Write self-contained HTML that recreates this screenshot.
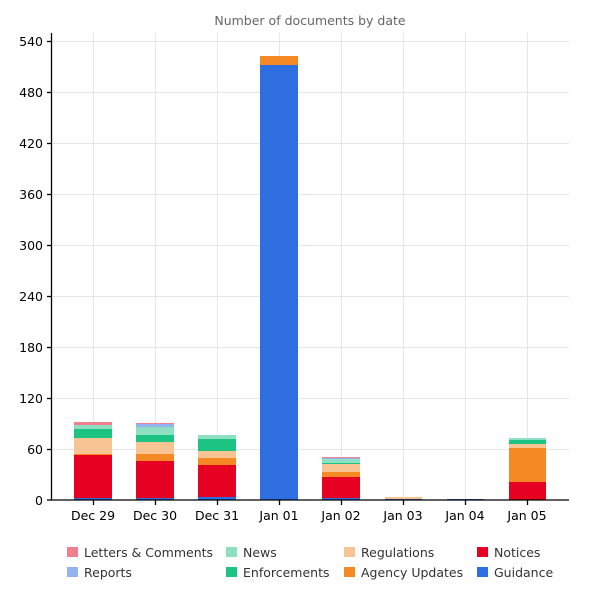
<!DOCTYPE html>
<html><head><meta charset="utf-8"><style>body{margin:0;background:#fff}svg{display:block}text{font-family:"DejaVu Sans",sans-serif}</style></head>
<body>
<svg width="600" height="600" xmlns="http://www.w3.org/2000/svg">
<text x="310" y="25" font-size="12.5" fill="#666" text-anchor="middle">Number of documents by date</text>
<g stroke="#e6e6e6" stroke-width="1">
<line x1="52" x2="569" y1="41.5" y2="41.5"/><line x1="52" x2="569" y1="92.5" y2="92.5"/><line x1="52" x2="569" y1="143.5" y2="143.5"/><line x1="52" x2="569" y1="194.5" y2="194.5"/><line x1="52" x2="569" y1="245.5" y2="245.5"/><line x1="52" x2="569" y1="296.5" y2="296.5"/><line x1="52" x2="569" y1="347.5" y2="347.5"/><line x1="52" x2="569" y1="398.5" y2="398.5"/><line x1="52" x2="569" y1="449.5" y2="449.5"/>
<line x1="93.5" x2="93.5" y1="33" y2="500"/><line x1="155.5" x2="155.5" y1="33" y2="500"/><line x1="217.5" x2="217.5" y1="33" y2="500"/><line x1="279.5" x2="279.5" y1="33" y2="500"/><line x1="341.5" x2="341.5" y1="33" y2="500"/><line x1="403.5" x2="403.5" y1="33" y2="500"/><line x1="465.5" x2="465.5" y1="33" y2="500"/><line x1="527.5" x2="527.5" y1="33" y2="500"/>
</g>
<!-- bar1 -->
<rect x="74" y="498" width="38" height="2" fill="#2e6ee0"/><rect x="74" y="455" width="38" height="43" fill="#e60022"/><rect x="74" y="454" width="38" height="1" fill="#f58a25"/><rect x="74" y="438" width="38" height="16" fill="#f8c494"/><rect x="74" y="429" width="38" height="9" fill="#1dc383"/><rect x="74" y="425" width="38" height="4" fill="#8fe0c2"/><rect x="74" y="422" width="38" height="3" fill="#f08090"/>
<!-- bar2 -->
<rect x="136" y="498" width="38" height="2" fill="#2e6ee0"/><rect x="136" y="461" width="38" height="37" fill="#e60022"/><rect x="136" y="454" width="38" height="7" fill="#f58a25"/><rect x="136" y="442" width="38" height="12" fill="#f8c494"/><rect x="136" y="435" width="38" height="7" fill="#1dc383"/><rect x="136" y="427" width="38" height="8" fill="#8fe0c2"/><rect x="136" y="424" width="38" height="3" fill="#93b4f0"/><rect x="136" y="423" width="38" height="1" fill="#f08090"/>
<!-- bar3 -->
<rect x="198" y="497" width="38" height="3" fill="#2e6ee0"/><rect x="198" y="465" width="38" height="32" fill="#e60022"/><rect x="198" y="458" width="38" height="7" fill="#f58a25"/><rect x="198" y="451" width="38" height="7" fill="#f8c494"/><rect x="198" y="439" width="38" height="12" fill="#1dc383"/><rect x="198" y="435" width="38" height="4" fill="#8fe0c2"/>
<!-- bar4 -->
<rect x="260" y="65" width="38" height="435" fill="#2e6ee0"/><rect x="260" y="56" width="38" height="9" fill="#f58a25"/>
<!-- bar5 -->
<rect x="322" y="498" width="38" height="2" fill="#2e6ee0"/><rect x="322" y="477" width="38" height="21" fill="#e60022"/><rect x="322" y="472" width="38" height="5" fill="#f58a25"/><rect x="322" y="464" width="38" height="8" fill="#f8c494"/><rect x="322" y="463" width="38" height="1" fill="#1dc383"/><rect x="322" y="459" width="38" height="4" fill="#8fe0c2"/><rect x="322" y="458" width="38" height="1" fill="#93b4f0"/><rect x="322" y="457" width="38" height="1" fill="#f08090"/>
<!-- bar6 -->
<rect x="385" y="499" width="37" height="1" fill="#2e6ee0"/><rect x="385" y="497" width="37" height="2" fill="#f8c494"/>
<!-- bar7 -->
<rect x="447" y="499" width="37" height="1" fill="#2e6ee0"/>
<!-- bar8 -->
<rect x="509" y="482" width="37" height="18" fill="#e60022"/><rect x="509" y="448" width="37" height="34" fill="#f58a25"/><rect x="509" y="444" width="37" height="4" fill="#f8c494"/><rect x="509" y="440" width="37" height="4" fill="#1dc383"/><rect x="509" y="438" width="37" height="2" fill="#8fe0c2"/>
<g stroke="#000" stroke-width="1.3">
<line x1="51.5" x2="51.5" y1="33" y2="500"/><line x1="51" x2="569" y1="500" y2="500"/>
<line x1="47" x2="52" y1="41.5" y2="41.5"/><line x1="47" x2="52" y1="92.5" y2="92.5"/><line x1="47" x2="52" y1="143.5" y2="143.5"/><line x1="47" x2="52" y1="194.5" y2="194.5"/><line x1="47" x2="52" y1="245.5" y2="245.5"/><line x1="47" x2="52" y1="296.5" y2="296.5"/><line x1="47" x2="52" y1="347.5" y2="347.5"/><line x1="47" x2="52" y1="398.5" y2="398.5"/><line x1="47" x2="52" y1="449.5" y2="449.5"/><line x1="47" x2="52" y1="500" y2="500"/>
<line x1="93.5" x2="93.5" y1="500" y2="505"/><line x1="155.5" x2="155.5" y1="500" y2="505"/><line x1="217.5" x2="217.5" y1="500" y2="505"/><line x1="279.5" x2="279.5" y1="500" y2="505"/><line x1="341.5" x2="341.5" y1="500" y2="505"/><line x1="403.5" x2="403.5" y1="500" y2="505"/><line x1="465.5" x2="465.5" y1="500" y2="505"/><line x1="527.5" x2="527.5" y1="500" y2="505"/>
</g>
<g font-size="12.5" fill="#000" text-anchor="end">
<text x="43" y="46">540</text><text x="43" y="97">480</text><text x="43" y="148">420</text><text x="43" y="199">360</text><text x="43" y="250">300</text><text x="43" y="301">240</text><text x="43" y="352">180</text><text x="43" y="403">120</text><text x="43" y="454">60</text><text x="43" y="505">0</text>
</g>
<g font-size="12.5" fill="#000" text-anchor="middle">
<text x="93" y="520">Dec 29</text><text x="155" y="520">Dec 30</text><text x="217" y="520">Dec 31</text><text x="279" y="520">Jan 01</text><text x="341" y="520">Jan 02</text><text x="403" y="520">Jan 03</text><text x="465" y="520">Jan 04</text><text x="527" y="520">Jan 05</text>
</g>
<g font-size="12.5" fill="#333">
<rect x="67" y="547" width="11" height="10" fill="#f08090"/><text x="84" y="557">Letters &amp; Comments</text>
<rect x="67" y="567" width="11" height="10" fill="#93b4f0"/><text x="84" y="577">Reports</text>
<rect x="226" y="547" width="11" height="10" fill="#8fe0c2"/><text x="243" y="557">News</text>
<rect x="226" y="567" width="11" height="10" fill="#1dc383"/><text x="243" y="577">Enforcements</text>
<rect x="344" y="547" width="11" height="10" fill="#f8c494"/><text x="361" y="557">Regulations</text>
<rect x="344" y="567" width="11" height="10" fill="#f58a25"/><text x="361" y="577">Agency Updates</text>
<rect x="477" y="547" width="11" height="10" fill="#e60022"/><text x="494" y="557">Notices</text>
<rect x="477" y="567" width="11" height="10" fill="#2e6ee0"/><text x="494" y="577">Guidance</text>
</g>
</svg>
</body></html>
